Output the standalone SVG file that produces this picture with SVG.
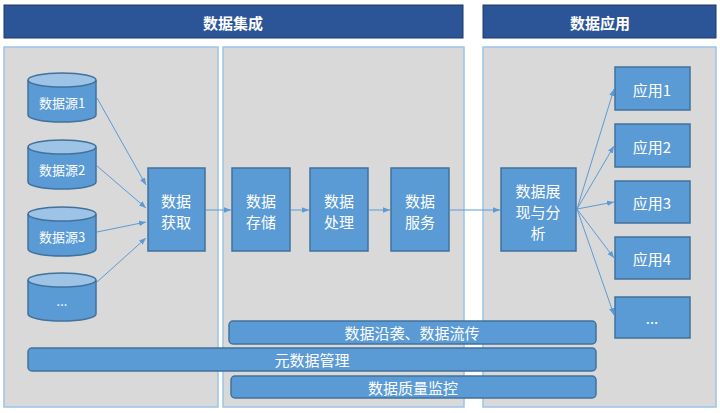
<svg xmlns="http://www.w3.org/2000/svg" width="720" height="413" viewBox="0 0 720 413">
<style>
.hd{fill:#2b5597;stroke:#1f3864;stroke-width:1}
.pn{fill:#d9d9d9;stroke:#9dc3e6;stroke-width:1.5}
.bx{fill:#5b9bd5;stroke:#41719c;stroke-width:1.5}
.top{fill:#9dc3e6;stroke:#41719c;stroke-width:1.5}
.t{font-family:"Noto Sans CJK SC",sans-serif;fill:#fff;text-anchor:middle;dominant-baseline:central}
.s{font-size:13px}.m{font-size:15px}.h{font-size:15px;font-weight:bold}
.c{stroke:#5b9bd5;stroke-width:1;fill:none;marker-end:url(#a)}
</style>
<defs><marker id="a" viewBox="0 0 10 10" refX="10" refY="5" markerWidth="7" markerHeight="7" orient="auto"><path d="M0,1 L10,5 L0,9z" fill="#5b9bd5"/></marker></defs>
<rect width="720" height="413" fill="#fff"/>
<g id="hdr1"><rect class="hd" x="4" y="5" width="459" height="33"/><text class="t h" x="233" y="22">数据集成</text></g>
<g id="hdr2"><rect class="hd" x="483" y="5" width="233" height="33"/><text class="t h" x="600" y="22">数据应用</text></g>
<rect class="pn" x="4" y="47" width="214" height="360"/>
<rect class="pn" x="223" y="47" width="241" height="360"/>
<rect class="pn" x="483" y="47" width="233" height="360"/>
<g id="connectors">
<path class="c" d="M97,98 L146,185"/>
<path class="c" d="M97,166 L146,208"/>
<path class="c" d="M97,232 L146,222"/>
<path class="c" d="M97,282 L146,238"/>
<path class="c" d="M206,210 L231,210"/>
<path class="c" d="M291,210 L309,210"/>
<path class="c" d="M369,210 L390,210"/>
<path class="c" d="M450,210 L500,210"/>
<path class="c" d="M577,209 L614,89"/>
<path class="c" d="M577,209 L614,146"/>
<path class="c" d="M577,209 L614,202"/>
<path class="c" d="M577,209 L614,258"/>
<path class="c" d="M577,209 L614,315"/>
</g>
<g id="ds1"><path class="bx" d="M28,80 V115 A34,7 0 0 0 96,115 V80"/><ellipse class="top" cx="62" cy="80" rx="34" ry="7"/><text class="t s" x="62" y="102">数据源1</text></g>
<g id="ds2"><path class="bx" d="M28,147 V182 A34,7 0 0 0 96,182 V147"/><ellipse class="top" cx="62" cy="147" rx="34" ry="7"/><text class="t s" x="62" y="169">数据源2</text></g>
<g id="ds3"><path class="bx" d="M28,214 V249 A34,7 0 0 0 96,249 V214"/><ellipse class="top" cx="62" cy="214" rx="34" ry="7"/><text class="t s" x="62" y="236">数据源3</text></g>
<g id="ds4"><path class="bx" d="M28,280 V314 A34,7 0 0 0 96,314 V280"/><ellipse class="top" cx="62" cy="280" rx="34" ry="7"/><text class="t s" x="62" y="300">...</text></g>
<g id="get"><rect class="bx" x="148" y="168" width="57" height="83"/><text class="t m" x="176" y="200">数据</text><text class="t m" x="176" y="221">获取</text></g>
<g id="store"><rect class="bx" x="232" y="168" width="58" height="83"/><text class="t m" x="261" y="200">数据</text><text class="t m" x="261" y="221">存储</text></g>
<g id="proc"><rect class="bx" x="310" y="168" width="58" height="83"/><text class="t m" x="339" y="200">数据</text><text class="t m" x="339" y="221">处理</text></g>
<g id="serv"><rect class="bx" x="391" y="168" width="58" height="83"/><text class="t m" x="420" y="200">数据</text><text class="t m" x="420" y="221">服务</text></g>
<g id="show"><rect class="bx" x="501" y="168" width="75" height="83"/><text class="t m" x="538" y="190">数据展</text><text class="t m" x="538" y="211">现与分</text><text class="t m" x="538" y="232">析</text></g>
<g id="app1"><rect class="bx" x="615" y="67" width="75" height="43"/><text class="t m" x="652" y="89">应用1</text></g>
<g id="app2"><rect class="bx" x="615" y="124" width="75" height="43"/><text class="t m" x="652" y="146">应用2</text></g>
<g id="app3"><rect class="bx" x="615" y="181" width="75" height="42"/><text class="t m" x="652" y="202">应用3</text></g>
<g id="app4"><rect class="bx" x="615" y="237" width="75" height="42"/><text class="t m" x="652" y="258">应用4</text></g>
<g id="app5"><rect class="bx" x="615" y="297" width="75" height="41"/><text class="t m" x="652" y="317">...</text></g>
<g id="lineage"><rect class="bx" x="229" y="321" width="367" height="23" rx="4"/><text class="t m" x="412" y="332">数据沿袭、数据流传</text></g>
<g id="meta"><rect class="bx" x="28" y="348" width="568" height="23" rx="4"/><text class="t m" x="312" y="359">元数据管理</text></g>
<g id="quality"><rect class="bx" x="231" y="376" width="365" height="22" rx="4"/><text class="t m" x="413" y="387">数据质量监控</text></g>
</svg>
